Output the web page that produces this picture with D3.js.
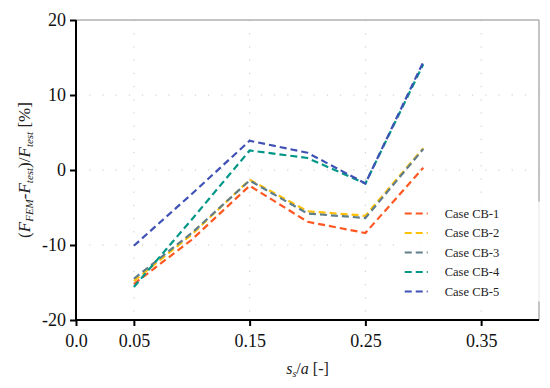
<!DOCTYPE html>
<html>
<head>
<meta charset="utf-8">
<script src="https://cdn.jsdelivr.net/npm/d3@7"></script>
<style>
  body { margin: 0; background: #fff; }
  text { font-family: "Liberation Serif", "DejaVu Serif", serif; }
</style>
</head>
<body>
<div id="chart"></div>
<script>
// data
const ratios = [0.05, 0.10, 0.15, 0.20, 0.25, 0.30];
const caseNames = ["Case CB-1", "Case CB-2", "Case CB-3", "Case CB-4", "Case CB-5"];
const cb1 = [-15.2, -9.3, -2.1, -6.9, -8.4, 0.3];
const cb2 = [-14.8, -8.6, -1.3, -5.5, -6.1, 2.9];
const cb3 = [-14.5, -8.4, -1.4, -5.8, -6.4, 2.8];
const cb4 = [-15.6, -6.6, 2.6, 1.6, -1.8, 14.1];
const cb5 = [-10.1, -3.2, 3.9, 2.3, -1.8, 14.4];
const colors = ["#ff5722", "#ffc107", "#607d8b", "#009688", "#3f51b5"];
const xTicks = [0.0, 0.05, 0.15, 0.25, 0.35];
const yTicks = [-20, -10, 0, 10, 20];

const allSeries = [cb1, cb2, cb3, cb4, cb5];

// Configuration du graphique
var width = 550;
var height = 388;
var margin = { top: 20, right: 11, bottom: 68, left: 76 };
var w = width - margin.left - margin.right;
var h = height - margin.top - margin.bottom;

var svg = d3.select("#chart").append("svg")
  .attr("width", width)
  .attr("height", height)
  .append("g")
  .attr("transform", "translate(" + margin.left + "," + margin.top + ")");

var x = d3.scaleLinear().domain([0, 0.4]).range([0, w]);
var y = d3.scaleLinear().domain([-20, 20]).range([h, 0]);

// grille pointillée
svg.append("g").selectAll("line")
  .data(xTicks.slice(1))
  .enter().append("line")
  .attr("x1", d => x(d)).attr("x2", d => x(d))
  .attr("y1", 0).attr("y2", h)
  .style("stroke", "#c8c8c8").style("stroke-width", 1)
  .style("stroke-dasharray", "1.2,12");
svg.append("g").selectAll("line")
  .data([-10, 0, 10])
  .enter().append("line")
  .attr("x1", 0).attr("x2", w)
  .attr("y1", d => y(d)).attr("y2", d => y(d))
  .style("stroke", "#c8c8c8").style("stroke-width", 1)
  .style("stroke-dasharray", "1.2,12");

// cadre haut et droit gris
svg.append("line").attr("x1", 0).attr("x2", w).attr("y1", 0).attr("y2", 0)
  .style("stroke", "#b0b0b0").style("stroke-width", 1.5);
svg.append("line").attr("x1", w).attr("x2", w).attr("y1", 0).attr("y2", h)
  .style("stroke", "#b0b0b0").style("stroke-width", 1.5);

// courbes
var line = d3.line()
  .x((d, i) => x(ratios[i]))
  .y(d => y(d));

svg.selectAll(".serie")
  .data(allSeries)
  .enter().append("path")
  .attr("class", "serie")
  .attr("d", d => line(d))
  .style("fill", "none")
  .style("stroke", (d, i) => colors[i])
  .style("stroke-width", 2.2)
  .style("stroke-dasharray", "7,4");

// axes
var xAxis = svg.append("g")
  .attr("transform", "translate(0," + h + ")")
  .call(d3.axisBottom(x).tickValues(xTicks)
    .tickFormat(d => d === 0 ? "0.0" : d3.format(".2f")(d))
    .tickSize(6).tickPadding(8));
var yAxis = svg.append("g")
  .call(d3.axisLeft(y).tickValues(yTicks).tickFormat(d => String(d))
    .tickSize(6).tickPadding(4));

[xAxis, yAxis].forEach(function(a) {
  a.attr("font-family", null);
  a.select(".domain").style("stroke", "#000").style("stroke-width", 2);
  a.selectAll(".tick line").style("stroke", "#000").style("stroke-width", 2);
  a.selectAll(".tick text")
    .style("font-family", "'Liberation Serif', serif")
    .style("font-size", "18px").style("fill", "#111");
});
xAxis.select(".domain").attr("d", "M0,0H" + w);
yAxis.select(".domain").attr("d", "M0," + h + "V0");

// titre axe X
var xl = svg.append("text")
  .attr("x", x(0.2))
  .attr("y", h + 54)
  .attr("text-anchor", "middle")
  .style("font-size", "16px")
  .style("fill", "#222");
xl.append("tspan").style("font-style", "italic").text("s");
xl.append("tspan").style("font-style", "italic").style("font-size", "10px").attr("dy", 3).text("s");
xl.append("tspan").attr("dy", -3).text("/");
xl.append("tspan").style("font-style", "italic").text("a");
xl.append("tspan").text(" [-]");

// titre axe Y
var yl = svg.append("text")
  .attr("transform", "translate(" + (-46) + "," + (h / 2) + ") rotate(-90)")
  .attr("text-anchor", "middle")
  .style("font-size", "17px")
  .style("fill", "#222");
yl.append("tspan").text("(");
yl.append("tspan").style("font-style", "italic").text("F");
yl.append("tspan").style("font-style", "italic").style("font-size", "11px").attr("dy", 3).text("FEM");
yl.append("tspan").attr("dy", -3).text("-");
yl.append("tspan").style("font-style", "italic").text("F");
yl.append("tspan").style("font-style", "italic").style("font-size", "11px").attr("dy", 3).text("test");
yl.append("tspan").attr("dy", -3).text(")/");
yl.append("tspan").style("font-style", "italic").text("F");
yl.append("tspan").style("font-style", "italic").style("font-size", "11px").attr("dy", 3).text("test");
yl.append("tspan").attr("dy", -3).text(" [%]");

// légende
var legend = svg.append("g")
  .attr("transform", "translate(" + (x(0.284)) + "," + (y(-5.8)) + ")");
legend.append("rect")
  .attr("x", -6).attr("y", -12)
  .attr("width", 142).attr("height", 100)
  .style("fill", "#fff").style("opacity", 0.8);
var items = legend.selectAll(".leg")
  .data(caseNames)
  .enter().append("g")
  .attr("transform", (d, i) => "translate(0," + (i * 19.5) + ")");
items.append("line")
  .attr("x1", 0).attr("x2", 23)
  .style("stroke", (d, i) => colors[i])
  .style("stroke-width", 2.2)
  .style("stroke-dasharray", "7,4");
items.append("text")
  .attr("x", 40).attr("y", 4)
  .style("font-size", "12.5px")
  .style("fill", "#222")
  .text(d => d);
</script>
</body>
</html>
